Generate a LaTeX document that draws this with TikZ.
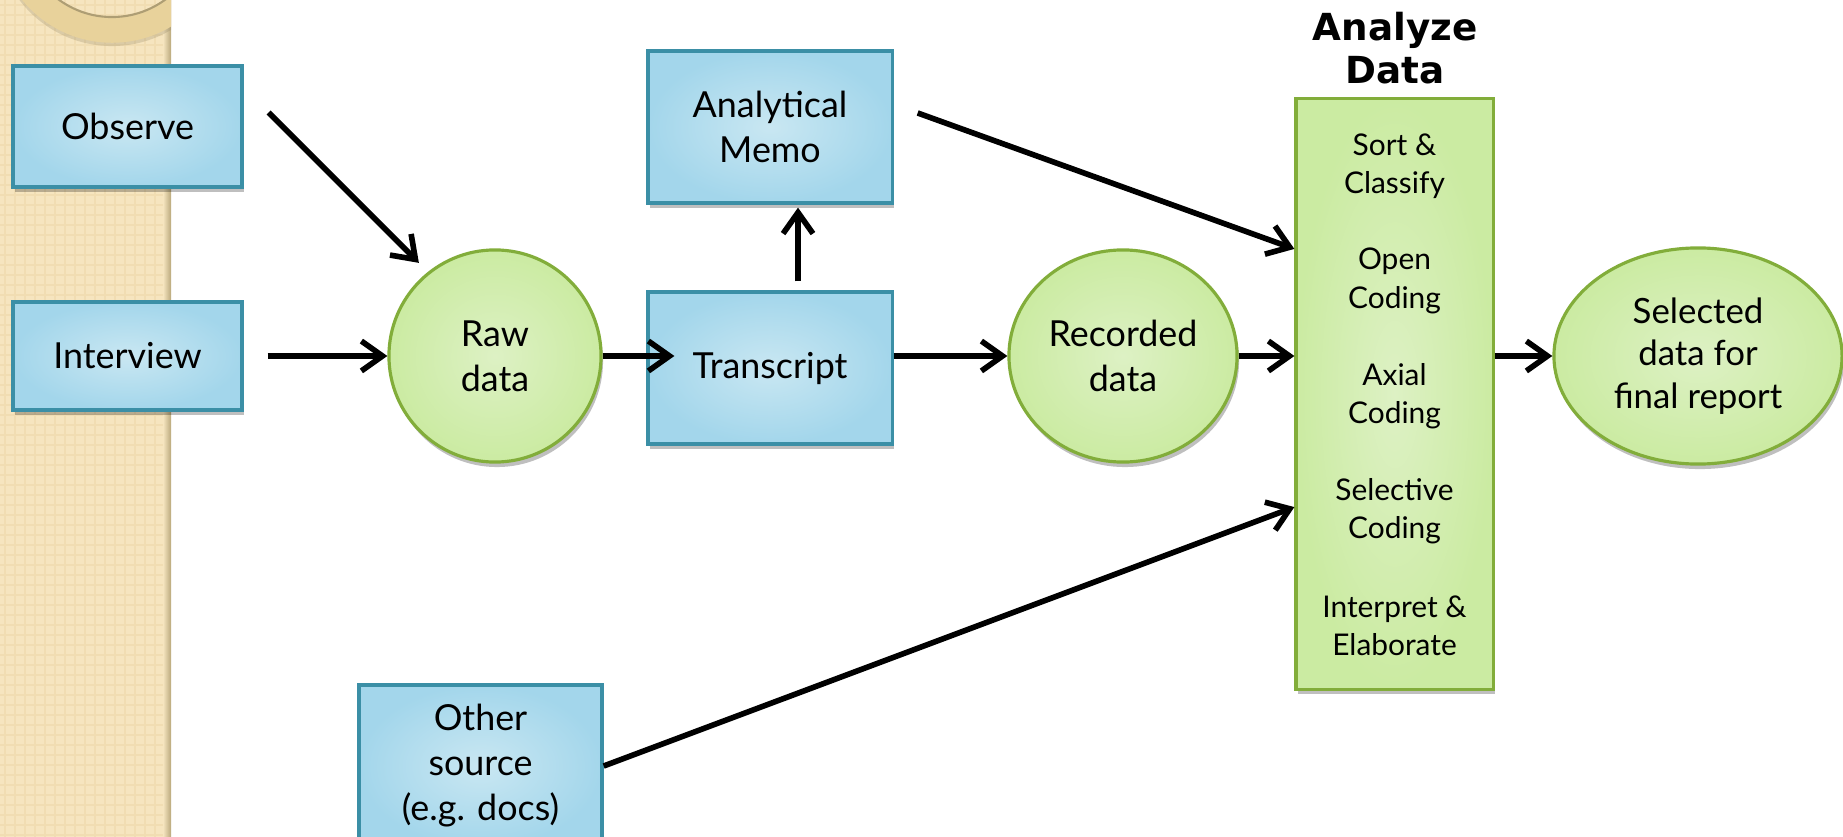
\documentclass[tikz,border=0pt]{standalone}
\usepackage{fontspec}
\setmainfont{Lato}
\newfontfamily\titlefont{DejaVu Sans}
\usetikzlibrary{arrows.meta,positioning,shapes.geometric,shadows}

\definecolor{boxblue}{HTML}{A3D6EB}
\definecolor{boxbluec}{HTML}{C9E7F2}
\definecolor{edgeblue}{HTML}{3B8FA6}
\definecolor{boxgreen}{HTML}{CBEBA2}
\definecolor{boxgreenc}{HTML}{DDF1C4}
\definecolor{edgegreen}{HTML}{82AD3A}
\definecolor{paper}{HTML}{F6E5BF}
\definecolor{paperdot}{HTML}{F1DDB2}
\definecolor{ring}{HTML}{E8D29B}

\tikzset{
  soft shadow/.style={drop shadow={shadow xshift=.02cm, shadow yshift=-.05cm, opacity=.25, fill=black}},
  srcbox/.style={rectangle, draw=edgeblue, line width=.9pt, shading=radial,
    inner color=boxbluec, outer color=boxblue, soft shadow, align=center,
    font=\fontsize{10.2}{12.8}\selectfont},
  datablob/.style={ellipse, draw=edgegreen, line width=.9pt, shading=radial,
    inner color=boxgreenc, outer color=boxgreen, soft shadow, align=center,
    inner sep=0pt, font=\fontsize{10.2}{12.8}\selectfont},
  stagebox/.style={rectangle, draw=edgegreen, line width=.9pt, shading=radial,
    inner color=boxgreenc, outer color=boxgreen, soft shadow},
  stagetext/.style={align=center, font=\fontsize{8.5}{10.9}\selectfont},
  flow/.style={->, line width=1.6pt},
}

\begin{document}
\begin{tikzpicture}[>={Straight Barb[length=6pt,width=8.5pt]}, x=.01cm, y=-.01cm]
\useasboundingbox (0,0) rectangle (1843,837);

% left strip
\fill[paper] (0,0) rectangle (171,837);
\foreach \i in {5,15,...,165}
    \draw[paperdot, line width=.5pt] (\i,0) -- (\i,837);
\foreach \j in {5,15,...,835}
    \draw[paperdot, line width=.5pt] (0,\j) -- (171,\j);
\shade[left color=paper, right color=ring!80!black] (163,0) rectangle (171,837);
\begin{scope}
    \clip (0,0) rectangle (171,837);
    \fill[ring!60!black, opacity=.25, even odd rule]
        (112,-70) circle[radius=1.16cm] (112,-70) circle[radius=.90cm];
    \fill[ring, even odd rule]
        (112,-73) circle[radius=1.157cm] (112,-73) circle[radius=.90cm];
    \draw[ring!75!black, line width=.6pt] (112,-73) circle[radius=.90cm];
\end{scope}

% sources
\node[srcbox, minimum width=2.29cm, minimum height=1.21cm] (obs) at (127.5,126.5) {Observe};
\node[srcbox, minimum width=2.29cm, minimum height=1.08cm] (int) at (127.5,356) {Interview};
\node[srcbox, minimum width=2.44cm, minimum height=1.52cm] (memo) at (770,127) {Analytical\\Memo};
\node[srcbox, minimum width=2.44cm, minimum height=1.52cm] (tra) at (770,368) {Transcript};
\node[srcbox, minimum width=2.43cm, minimum height=1.62cm] (oth) at (480.5,766) {Other\\source\\(e.g. docs)};

% data
\node[datablob, minimum width=2.12cm, minimum height=2.12cm] (raw) at (495,356) {Raw\\data};
\node[datablob, minimum width=2.28cm, minimum height=2.12cm] (rec) at (1123,356) {Recorded\\data};
\node[datablob, minimum width=2.88cm, minimum height=2.16cm,
      font=\fontsize{9.9}{12}\selectfont] (sel) at (1698,356) {Selected\\data for\\final report};

% analysis
\node[stagebox, minimum width=1.97cm, minimum height=5.9cm] (ana) at (1394.5,394) {};
\node[align=center, font=\fontsize{10.6}{12.2}\titlefont\bfseries] (ttl) at (1395,48) {Analyze\\Data};
\foreach \t [count=\i] in {Sort \&\\Classify, Open\\Coding, Axial\\Coding,
                           Selective\\Coding, Interpret \&\\Elaborate}
    \node[stagetext] (stage\i) at (1394.5,{51+115*\i}) {\t};

% arrows
\draw[flow] ([xshift=.25cm,yshift=.14cm]obs.east) -- ([yshift=.17cm]raw.135);
\draw[flow] ([xshift=.24cm]int.east) -- (raw.west);
\draw[flow] (raw.east) -- ([xshift=.28cm]tra.west |- raw.east);
\draw[flow] ([xshift=.28cm,yshift=.09cm]tra.north) -- ([xshift=.28cm,yshift=-.03cm]memo.south);
\draw[flow] (tra.east |- rec.west) -- (rec.west);
\draw[flow] ([xshift=.24cm,yshift=.14cm]memo.east) -- ([yshift=1.45cm]ana.west);
\draw[flow] (rec.east) -- (ana.west |- rec.east);
\draw[flow] (oth.east) -- ([yshift=-1.13cm]ana.west);
\draw[flow] (ana.east |- sel.west) -- (sel.west);

\end{tikzpicture}
\end{document}
